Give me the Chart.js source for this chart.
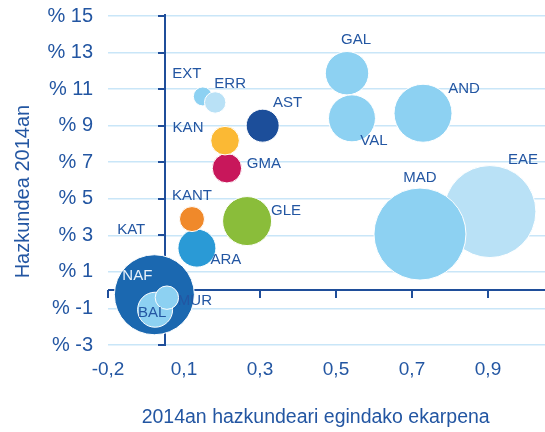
<!DOCTYPE html>
<html>
<head>
<meta charset="utf-8">
<script src="https://cdn.jsdelivr.net/npm/chart.js@4.4.1/dist/chart.umd.min.js"></script>
<style>
  html, body { margin: 0; padding: 0; background: #fff; }
</style>
</head>
<body>
<canvas id="chart" width="545" height="432"></canvas>
<script>
// regions, drawn in this order (later ones on top)
const regions = ['KAT', 'NAF', 'BAL', 'MUR', 'ARA', 'KANT', 'GLE', 'GMA', 'KAN', 'AST', 'EXT', 'ERR', 'GAL', 'VAL', 'AND', 'EAE', 'MAD'];
const contribution = [-0.089, -0.028, -0.026, 0.005, 0.084, 0.071, 0.216, 0.163, 0.158, 0.257, 0.0995, 0.132, 0.479, 0.492, 0.679, 0.855, 0.671];
const growth = [3.29, -0.25, -1.07, -0.41, 2.30, 3.89, 3.78, 6.67, 8.18, 9.0, 10.6, 10.27, 11.87, 9.40, 9.68, 4.30, 3.07];
const bubbleSize = [0, 40, 17.5, 11.7, 19, 12.5, 24.5, 14.7, 14.3, 16.5, 9.5, 10.7, 21.7, 23.5, 29, 46, 46];

const xTickValues = [-0.15, 0.05, 0.25, 0.45, 0.65, 0.85];
const xTickLabels = ['-0,2', '0,1', '0,3', '0,5', '0,7', '0,9'];
const yTickValues = [-3, -1, 1, 3, 5, 7, 9, 11, 13, 15];
const yTickLabels = ['% -3', '% -1', '% 1', '% 3', '% 5', '% 7', '% 9', '% 11', '% 13', '% 15'];

// styling
const LIGHT = '#8DD1F2', PALE = '#B9E1F6';
const bubbleColors = ['rgba(0,0,0,0)', '#1B68B0', LIGHT, LIGHT, '#2A9AD6', '#F0892A', '#8ABD3A', '#C8175B', '#FBB934', '#1C4E9A', LIGHT, PALE, LIGHT, LIGHT, LIGHT, PALE, LIGHT];
const TEXT = '#2356A2';
const AXIS = '#1F4E9A';
const labelColors = regions.map(r => r === 'NAF' ? '#E8F1FA' : TEXT);
// label position relative to the bubble centre, in pixels
const labelOffsets = [[0, 0], [-17, -19], [-3, 3], [28, 3], [29, 12], [0, -23], [39, -10], [37, -4], [-37, -13], [25, -23], [-16, -23], [15, -19], [9, -33], [22, 23], [41, -24], [33, -52], [0, -56]];

const FONT = '"Liberation Sans", Arial, sans-serif';

// bubble controller that does not pad the chart area by the biggest radius
class PlainBubble extends Chart.BubbleController {
  getMaxOverflow() { return 0; }
}
PlainBubble.id = 'plainBubble';
PlainBubble.defaults = Chart.BubbleController.defaults;
PlainBubble.overrides = Chart.BubbleController.overrides;
Chart.register(PlainBubble);

// axes crossing at (0, 0), with tick marks at the scale ticks
const crossAxes = {
  id: 'crossAxes',
  beforeDatasetsDraw(chart) {
    const { ctx, chartArea: a, scales: { x, y } } = chart;
    const x0 = Math.round(x.getPixelForValue(0));
    const y0 = Math.round(y.getPixelForValue(0));
    ctx.save();
    ctx.strokeStyle = AXIS;
    ctx.lineWidth = 2;
    ctx.beginPath();
    ctx.moveTo(a.left, y0); ctx.lineTo(a.right, y0);
    ctx.moveTo(x0, a.top - 2); ctx.lineTo(x0, a.bottom + 1);
    x.ticks.forEach(t => {
      const px = Math.round(x.getPixelForValue(t.value));
      ctx.moveTo(px, y0); ctx.lineTo(px, y0 + 8);
    });
    y.ticks.forEach(t => {
      const py = Math.round(y.getPixelForValue(t.value));
      ctx.moveTo(x0, py); ctx.lineTo(x0 - 7, py);
    });
    ctx.stroke();
    ctx.restore();
  }
};

const bubbleLabels = {
  id: 'bubbleLabels',
  afterDatasetsDraw(chart) {
    const ctx = chart.ctx;
    const meta = chart.getDatasetMeta(0);
    ctx.save();
    ctx.font = '15px ' + FONT;
    ctx.textAlign = 'center';
    ctx.textBaseline = 'middle';
    meta.data.forEach((pt, i) => {
      ctx.fillStyle = labelColors[i];
      ctx.fillText(regions[i], pt.x + labelOffsets[i][0], pt.y + labelOffsets[i][1]);
    });
    ctx.restore();
  }
};

new Chart(document.getElementById('chart'), {
  type: 'plainBubble',
  data: {
    datasets: [{
      data: regions.map((r, i) => ({ x: contribution[i], y: growth[i], r: bubbleSize[i] })),
      backgroundColor: bubbleColors,
      borderColor: '#ffffff',
      borderWidth: regions.map(r => r === 'KAT' ? 0 : 1),
      hoverRadius: 0
    }]
  },
  options: {
    responsive: false,
    animation: false,
    events: [],
    layout: { padding: { top: 16, right: 0, left: 0, bottom: 0 } },
    plugins: { legend: { display: false }, tooltip: { enabled: false } },
    scales: {
      x: {
        type: 'linear', min: -0.15, max: 1.0,
        afterBuildTicks: s => { s.ticks = xTickValues.map(v => ({ value: v })); },
        afterFit: s => { s.height = 87; s.paddingLeft = 0; s.paddingRight = 0; },
        grid: { display: false, drawTicks: false },
        border: { display: false },
        ticks: {
          color: TEXT, padding: 13, maxRotation: 0, autoSkip: false,
          font: { family: FONT, size: 19 },
          callback: (v, i) => xTickLabels[i]
        },
        title: {
          display: true, text: '2014an hazkundeari egindako ekarpena    ', color: TEXT,
          font: { family: FONT, size: 19.5 }, padding: { top: 0, bottom: 3 }
        }
      },
      y: {
        type: 'linear', min: -3, max: 15,
        afterBuildTicks: s => { s.ticks = yTickValues.map(v => ({ value: v })); },
        afterFit: s => { s.width = 108; s.paddingTop = 0; s.paddingBottom = 0; },
        grid: { color: '#C9E6F8', lineWidth: 1.5, drawTicks: false },
        border: { display: false },
        ticks: {
          color: TEXT, padding: 15, autoSkip: false,
          font: { family: FONT, size: 20 },
          callback: (v, i) => yTickLabels[i]
        },
        title: {
          display: true, text: 'Hazkundea 2014an    ', color: TEXT,
          font: { family: FONT, size: 20 }, padding: { top: 11, bottom: 0 }
        }
      }
    }
  },
  plugins: [crossAxes, bubbleLabels]
});
</script>
</body>
</html>
